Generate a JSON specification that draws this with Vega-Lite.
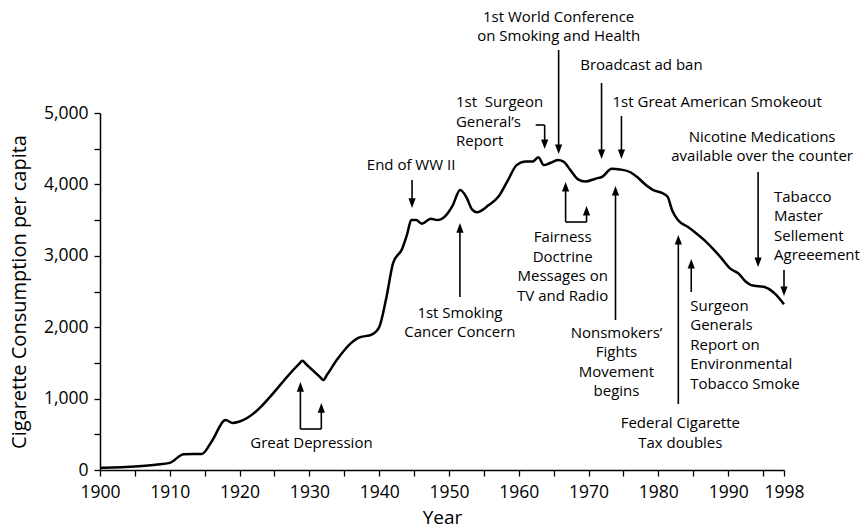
{
  "$schema": "https://vega.github.io/schema/vega-lite/v6.json",
  "autosize": {"type": "none"},
  "padding": {"left": 100, "top": 113, "right": 82, "bottom": 59},
  "width": 684,
  "height": 357,
  "background": "white",
  "config": {
    "view": {"stroke": null},
    "font": "Open Sans",
    "text": {"font": "Open Sans", "fontSize": 15, "lineBreak": "\n", "lineHeight": 19.5, "color": "black"},
    "axis": {
      "domainColor": "black", "domainWidth": 1.5, "tickColor": "black", "tickWidth": 1.3, "tickSize": 6,
      "labelColor": "black", "labelFont": "Open Sans", "labelFontSize": 17.5, "titleFont": "Open Sans",
      "titleFontSize": 19, "titleFontWeight": "normal", "titleColor": "black", "grid": false,
      "labelOverlap": false, "labelFlush": false
    }
  },
  "datasets": {
    "curve": [
      {"year": 1900, "value": 30}, {"year": 1903, "value": 40}, {"year": 1906, "value": 55},
      {"year": 1908, "value": 75}, {"year": 1910, "value": 100}, {"year": 1912, "value": 220},
      {"year": 1914.6, "value": 225}, {"year": 1916, "value": 400}, {"year": 1918, "value": 700},
      {"year": 1919, "value": 660}, {"year": 1920, "value": 680}, {"year": 1928.5, "value": 1483},
      {"year": 1929, "value": 1530}, {"year": 1929.5, "value": 1485}, {"year": 1931.5, "value": 1305},
      {"year": 1932, "value": 1260}, {"year": 1932.5, "value": 1330}, {"year": 1934, "value": 1550},
      {"year": 1936, "value": 1780},
      {"year": 1937, "value": 1850}, {"year": 1939, "value": 1900}, {"year": 1940, "value": 2000},
      {"year": 1941, "value": 2400}, {"year": 1942, "value": 2900}, {"year": 1943.3, "value": 3100},
      {"year": 1944, "value": 3300}, {"year": 1944.6, "value": 3500}, {"year": 1945.3, "value": 3500},
      {"year": 1946.1, "value": 3450}, {"year": 1947.4, "value": 3520}, {"year": 1948.3, "value": 3500},
      {"year": 1949.5, "value": 3560}, {"year": 1950.5, "value": 3700}, {"year": 1951.6, "value": 3920},
      {"year": 1952.5, "value": 3820}, {"year": 1953.3, "value": 3650}, {"year": 1954, "value": 3610},
      {"year": 1955.7, "value": 3710}, {"year": 1957.1, "value": 3830}, {"year": 1958.4, "value": 4050},
      {"year": 1959.7, "value": 4270}, {"year": 1961, "value": 4320}, {"year": 1962, "value": 4320},
      {"year": 1962.8, "value": 4380}, {"year": 1963.6, "value": 4270}, {"year": 1964.5, "value": 4300},
      {"year": 1965.6, "value": 4340}, {"year": 1966.4, "value": 4320}, {"year": 1967.4, "value": 4200},
      {"year": 1968.5, "value": 4070}, {"year": 1969.5, "value": 4040}, {"year": 1971, "value": 4080},
      {"year": 1972, "value": 4110}, {"year": 1973.3, "value": 4220}, {"year": 1974.5, "value": 4210},
      {"year": 1976, "value": 4170}, {"year": 1977, "value": 4100}, {"year": 1978, "value": 4010},
      {"year": 1979.3, "value": 3920}, {"year": 1980.5, "value": 3880}, {"year": 1981.3, "value": 3830},
      {"year": 1982, "value": 3630}, {"year": 1982.8, "value": 3500}, {"year": 1984.3, "value": 3400},
      {"year": 1985.5, "value": 3310}, {"year": 1986.7, "value": 3210}, {"year": 1988, "value": 3080},
      {"year": 1989, "value": 2970}, {"year": 1990.3, "value": 2820}, {"year": 1991.5, "value": 2750},
      {"year": 1992.5, "value": 2640}, {"year": 1993.3, "value": 2590}, {"year": 1995.3, "value": 2560},
      {"year": 1996.7, "value": 2470}, {"year": 1998, "value": 2320}
    ],
    "segments": [
      {"year": 1928.71, "value": 574, "year2": 1928.71, "value2": 1176},
      {"year": 1931.71, "value": 574, "year2": 1931.71, "value2": 882},
      {"year": 1928.71, "value": 574, "year2": 1931.71, "value2": 574},
      {"year": 1944.71, "value": 4062, "year2": 1944.71, "value2": 3725},
      {"year": 1951.57, "value": 2423, "year2": 1951.57, "value2": 3403},
      {"year": 1962.43, "value": 4832, "year2": 1963.71, "value2": 4832},
      {"year": 1963.71, "value": 4832, "year2": 1963.71, "value2": 4552},
      {"year": 1965.71, "value": 5883, "year2": 1965.71, "value2": 4482},
      {"year": 1971.86, "value": 5420, "year2": 1971.86, "value2": 4412},
      {"year": 1974.71, "value": 4958, "year2": 1974.71, "value2": 4412},
      {"year": 1994.29, "value": 4174, "year2": 1994.29, "value2": 2899},
      {"year": 1998.0, "value": 2801, "year2": 1998.0, "value2": 2493},
      {"year": 1966.71, "value": 3473, "year2": 1969.71, "value2": 3473},
      {"year": 1966.71, "value": 3473, "year2": 1966.71, "value2": 3978},
      {"year": 1969.71, "value": 3473, "year2": 1969.71, "value2": 3642},
      {"year": 1973.86, "value": 2101, "year2": 1973.86, "value2": 3922},
      {"year": 1982.86, "value": 924, "year2": 1982.86, "value2": 3235},
      {"year": 1984.71, "value": 2493, "year2": 1984.71, "value2": 2899}
    ],
    "heads": [
      {"year": 1928.71, "value": 1232, "dir": "up"},
      {"year": 1931.71, "value": 938, "dir": "up"},
      {"year": 1944.71, "value": 3670, "dir": "down"},
      {"year": 1951.57, "value": 3459, "dir": "up"},
      {"year": 1963.71, "value": 4496, "dir": "down"},
      {"year": 1965.71, "value": 4426, "dir": "down"},
      {"year": 1971.86, "value": 4356, "dir": "down"},
      {"year": 1974.71, "value": 4356, "dir": "down"},
      {"year": 1994.29, "value": 2843, "dir": "down"},
      {"year": 1998.0, "value": 2437, "dir": "down"},
      {"year": 1966.71, "value": 4034, "dir": "up"},
      {"year": 1969.71, "value": 3698, "dir": "up"},
      {"year": 1973.86, "value": 3978, "dir": "up"},
      {"year": 1982.86, "value": 3291, "dir": "up"},
      {"year": 1984.71, "value": 2955, "dir": "up"}
    ],
    "labelsCenter": [
      {"year": 1930.29, "value": 378, "label": "Great Depression"},
      {"year": 1944.57, "value": 4272, "label": "End of WW II"},
      {"year": 1951.57, "value": 2199, "label": "1st Smoking\nCancer Concern"},
      {"year": 1965.71, "value": 6345, "label": "1st World Conference\non Smoking and Health"},
      {"year": 1977.57, "value": 5672, "label": "Broadcast ad ban"},
      {"year": 1988.43, "value": 5154, "label": "1st Great American Smokeout"},
      {"year": 1994.86, "value": 4664, "label": "Nicotine Medications\navailable over the counter"},
      {"year": 1966.29, "value": 3263, "label": "Fairness\nDoctrine\nMessages on\nTV and Radio"},
      {"year": 1974.0, "value": 1919, "label": "Nonsmokers’\nFights\nMovement\nbegins"},
      {"year": 1983.14, "value": 658, "label": "Federal Cigarette\nTax doubles"}
    ],
    "labelsLeft": [
      {"year": 1951.0, "value": 5154, "label": "1st\u00a0 Surgeon\nGeneral’s\nReport"},
      {"year": 1996.57, "value": 3824, "label": "Tabacco\nMaster\nSellement\nAgreeement"},
      {"year": 1984.57, "value": 2297, "label": "Surgeon\nGenerals\nReport on\nEnvironmental\nTobacco Smoke"}
    ]
  },
  "encoding": {
    "x": {"field": "year", "type": "quantitative",
      "scale": {"domain": [1900, 1998], "nice": false, "zero": false},
      "axis": {"title": "Year", "format": "d",
        "values": [1900, 1905, 1910, 1915, 1920, 1925, 1930, 1935, 1940, 1945, 1950, 1955, 1960, 1965, 1970, 1975, 1980, 1985, 1990, 1995, 1998],
        "labelExpr": "(datum.value % 10 == 0 || datum.value == 1998) ? datum.label : ''",
        "labelPadding": 7, "titlePadding": 8}},
    "y": {"field": "value", "type": "quantitative",
      "scale": {"domain": [0, 5000], "nice": false},
      "axis": {"title": "Cigarette Consumption per capita",
        "values": [0, 500, 1000, 1500, 2000, 2500, 3000, 3500, 4000, 4500, 5000],
        "labelExpr": "datum.value % 1000 == 0 ? format(datum.value, ',') : ''",
        "labelPadding": 6, "titlePadding": 14, "titleFontSize": 20}}
  },
  "layer": [
    {
      "data": {"name": "curve"},
      "mark": {"type": "line", "color": "black", "strokeWidth": 2.5, "interpolate": "monotone"}
    },
    {
      "data": {"name": "segments"},
      "mark": {"type": "rule", "color": "black", "strokeWidth": 1.6, "strokeCap": "butt"},
      "encoding": {
        "x2": {"field": "year2"},
        "y2": {"field": "value2"}
      }
    },
    {
      "data": {"name": "heads"},
      "mark": {"type": "point", "filled": true, "opacity": 1, "color": "black", "size": 64, "strokeWidth": 0},
      "encoding": {
        "shape": {"field": "dir", "type": "nominal", "legend": null,
          "scale": {"domain": ["up", "down"], "range": ["M0,0L-0.9,2.4L0.9,2.4Z", "M0,0L-0.9,-2.4L0.9,-2.4Z"]}}
      }
    },
    {
      "data": {"name": "labelsCenter"},
      "mark": {"type": "text", "align": "center", "baseline": "middle"},
      "encoding": {"text": {"field": "label"}}
    },
    {
      "data": {"name": "labelsLeft"},
      "mark": {"type": "text", "align": "left", "baseline": "middle"},
      "encoding": {"text": {"field": "label"}}
    }
  ]
}
